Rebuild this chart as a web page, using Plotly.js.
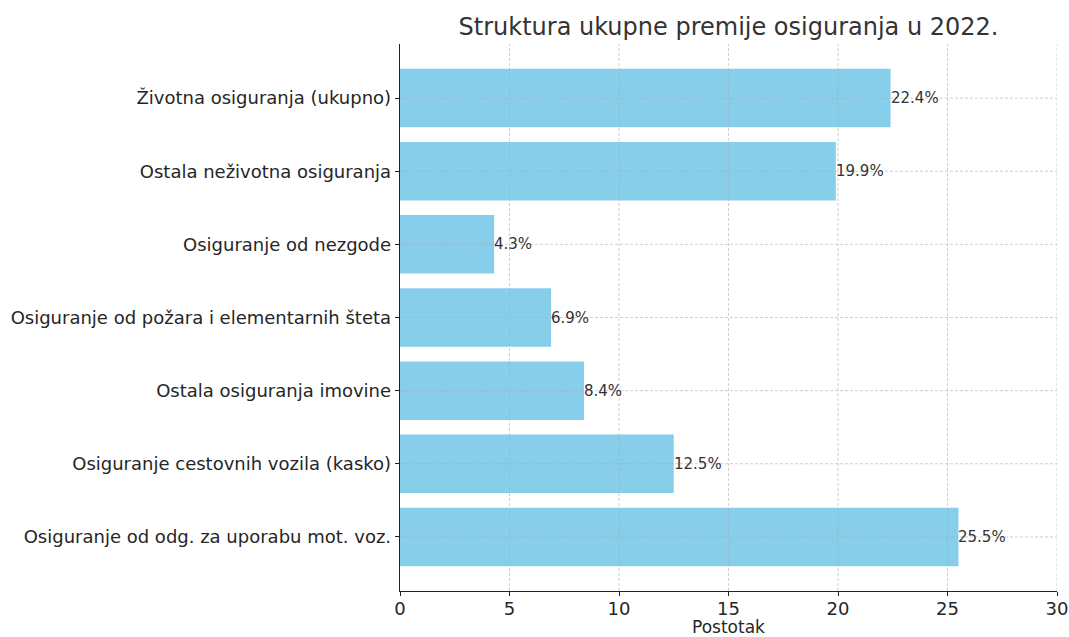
<!DOCTYPE html>
<html>
<head>
<meta charset="utf-8">
<script src="https://cdn.plot.ly/plotly-3.0.1.min.js"></script>
<style>html,body{margin:0;padding:0;background:#fff;}#chart{width:1069px;height:637px;}</style>
</head>
<body>
<div id="chart"></div>
<script>
// Categories listed bottom to top
var categories = [
  "Osiguranje od odg. za uporabu mot. voz.",
  "Osiguranje cestovnih vozila (kasko)",
  "Ostala osiguranja imovine",
  "Osiguranje od požara i elementarnih šteta",
  "Osiguranje od nezgode",
  "Ostala neživotna osiguranja",
  "Životna osiguranja (ukupno)"
];
var shares = [25.5, 12.5, 8.4, 6.9, 4.3, 19.9, 22.4];
var xTicks = [0, 5, 10, 15, 20, 25, 30];

var positions = categories.map(function(_, i){ return i; });

var trace = {
  type: 'bar',
  orientation: 'h',
  x: shares,
  y: positions,
  width: 0.8,
  marker: {color: '#87CEEB'},
  hoverinfo: 'x+y'
};

var annotations = shares.map(function(v, i){
  return {
    x: v, y: positions[i], xref: 'x', yref: 'y',
    text: v.toFixed(1) + '%',
    showarrow: false, xanchor: 'left', yanchor: 'middle',
    xshift: -2,
    font: {family: 'DejaVu Sans', size: 15, color: '#333333'}
  };
});

var gridStyle = {color: 'rgba(170,170,170,0.55)', width: 1, dash: '3px,2px'};
var shapes = [];
xTicks.forEach(function(t){
  if (t === 0) return;
  shapes.push({type: 'line', layer: 'above', xref: 'x', yref: 'paper',
    x0: t, x1: t, y0: 0, y1: 1, line: gridStyle});
});
positions.forEach(function(p){
  shapes.push({type: 'line', layer: 'above', xref: 'paper', yref: 'y',
    x0: 0, x1: 1, y0: p, y1: p, line: gridStyle});
});

var layout = {
  width: 1069, height: 637,
  margin: {l: 400, r: 12, t: 44, b: 46},
  paper_bgcolor: '#ffffff', plot_bgcolor: '#ffffff',
  font: {family: 'DejaVu Sans', color: '#262626'},
  title: {
    text: 'Struktura ukupne premije osiguranja u 2022.',
    font: {family: 'DejaVu Sans', size: 24, color: '#333333'},
    x: 0.6815, xanchor: 'center', y: 0.958, yanchor: 'middle'
  },
  xaxis: {
    range: [0, 30],
    tickvals: xTicks,
    ticktext: xTicks.map(String),
    ticks: 'outside', ticklen: 4, tickwidth: 1, tickcolor: '#222',
    ticklabelstandoff: -3,
    tickfont: {family: 'DejaVu Sans', size: 18, color: '#262626'},
    showline: true, linecolor: '#222', linewidth: 1.3,
    showgrid: false,
    zeroline: false,
    title: {text: 'Postotak', font: {family: 'DejaVu Sans', size: 17, color: '#262626'}, standoff: 2}
  },
  yaxis: {
    range: [-0.74, 6.74],
    tickvals: positions,
    ticktext: categories,
    ticks: 'outside', ticklen: 4, tickwidth: 1, tickcolor: '#222',
    tickfont: {family: 'DejaVu Sans', size: 18, color: '#262626'},
    showline: true, linecolor: '#222', linewidth: 1.3,
    showgrid: false,
    zeroline: false
  },
  shapes: shapes,
  annotations: annotations,
  showlegend: false
};

Plotly.newPlot('chart', [trace], layout, {displayModeBar: false, staticPlot: true});
</script>
</body>
</html>
